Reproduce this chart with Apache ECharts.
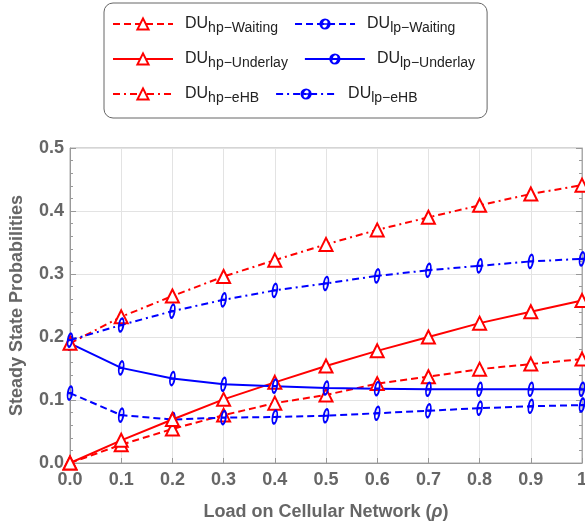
<!DOCTYPE html>
<html>
<head>
<meta charset="utf-8">
<script src="https://cdn.jsdelivr.net/npm/echarts@6/dist/echarts.min.js"></script>
<style>
  html, body { margin: 0; padding: 0; background: #fff; }
  #chart { width: 585px; height: 523px; }
</style>
</head>
<body>
<div id="chart"></div>
<script>
// load values on the x axis
var loads = [0, 0.1, 0.2, 0.3, 0.4, 0.5, 0.6, 0.7, 0.8, 0.9, 1];

// curves
var hpWaiting  = [0.000, 0.029, 0.054, 0.076, 0.095, 0.108, 0.126, 0.137, 0.149, 0.157, 0.165];
var lpWaiting  = [0.111, 0.076, 0.069, 0.072, 0.073, 0.075, 0.079, 0.083, 0.087, 0.090, 0.092];
var hpUnderlay = [0.000, 0.036, 0.069, 0.101, 0.128, 0.154, 0.178, 0.200, 0.222, 0.240, 0.258];
var lpUnderlay = [0.190, 0.151, 0.134, 0.125, 0.122, 0.119, 0.118, 0.117, 0.117, 0.117, 0.117];
var hpEHB      = [0.190, 0.232, 0.265, 0.296, 0.322, 0.347, 0.370, 0.390, 0.409, 0.427, 0.441];
var lpEHB      = [0.195, 0.219, 0.241, 0.259, 0.274, 0.285, 0.297, 0.306, 0.313, 0.320, 0.324];

var names = ['hp−Waiting', 'lp−Waiting', 'hp−Underlay', 'lp−Underlay', 'hp−eHB', 'lp−eHB'];

// theta marker (slanted ring + bar)
var theta = 'path://M2.07 -7.73 A4.5 8 15 1 1 -2.07 7.73 A4.5 8 15 1 1 2.07 -7.73 Z ' +
            'M1.4 -5.3 A1.8 5.4 15 1 0 -1.4 5.3 A1.8 5.4 15 1 0 1.4 -5.3 Z ' +
            'M-3.8 -1.1 L3.8 -1.1 L3.8 1.1 L-3.8 1.1 Z';

var dashed = [7, 4];
var dashDot = [7, 4, 2, 4];

function pairs(arr) {
  return loads.map(function (x, i) { return [x, arr[i]]; });
}

function redSeries(name, arr, type) {
  return {
    name: name,
    type: 'line',
    data: pairs(arr),
    symbol: 'triangle',
    symbolSize: 13,
    lineStyle: { color: '#ff0000', width: 2, type: type },
    itemStyle: { color: '#ffffff', borderColor: '#ff0000', borderWidth: 2 }
  };
}

function blueSeries(name, arr, type) {
  return {
    name: name,
    type: 'line',
    data: pairs(arr),
    symbol: theta,
    symbolKeepAspect: true,
    symbolSize: [11, 16],
    lineStyle: { color: '#0000ff', width: 2, type: type },
    itemStyle: { color: '#0000ff', borderWidth: 0 }
  };
}

var labelStyle = { color: '#666', fontSize: 18, fontWeight: 'bold', fontFamily: 'Liberation Sans, Arial, sans-serif' };

var chart = echarts.init(document.getElementById('chart'));

var option = {
  backgroundColor: '#fff',
  animation: false,
  grid: {
    left: 70, right: 3, top: 148, bottom: 60,
    outerBoundsMode: 'none',
    show: true, borderColor: '#aaa', borderWidth: 1
  },
  legend: {
    left: 104,
    top: 3,
    width: 380,
    padding: [13, 12, 13, 8],
    itemWidth: 60,
    itemHeight: 14,
    itemGap: 16,
    borderColor: '#666',
    borderWidth: 1,
    borderRadius: 9,
    data: names,
    formatter: function (n) { return '{a|DU}{b|' + n + '}'; },
    textStyle: {
      color: '#222',
      fontFamily: 'Liberation Sans, Arial, sans-serif',
      rich: {
        a: { fontSize: 16, lineHeight: 22, padding: [0, 0, 0, 7] },
        b: { fontSize: 14, lineHeight: 14, verticalAlign: 'bottom' }
      }
    }
  },
  xAxis: {
    type: 'value',
    min: 0,
    max: 1,
    interval: 0.1,
    name: 'Load on Cellular Network ({i|ρ})',
    nameLocation: 'middle',
    nameGap: 40,
    nameTextStyle: {
      color: '#666', fontSize: 18, fontWeight: 'bold', fontFamily: 'Liberation Sans, Arial, sans-serif',
      rich: { i: { fontStyle: 'italic', fontSize: 18, fontWeight: 'bold', color: '#666' } }
    },
    axisLine: { lineStyle: { color: '#999' } },
    axisTick: { inside: true, length: 5, lineStyle: { color: '#999' } },
    axisLabel: Object.assign({
      margin: 8,
      formatter: function (v) { return v === 1 ? '1' : v.toFixed(1); }
    }, labelStyle),
    splitLine: { lineStyle: { color: '#e3e3e3' } }
  },
  yAxis: [{
    type: 'value',
    min: 0,
    max: 0.5,
    interval: 0.1,
    name: 'Steady State Probabilities',
    nameLocation: 'middle',
    nameGap: 44,
    nameTextStyle: { color: '#666', fontSize: 18, fontWeight: 'bold', fontFamily: 'Liberation Sans, Arial, sans-serif' },
    axisLine: { show: true, lineStyle: { color: '#999' } },
    axisTick: { show: true, inside: true, length: 6, lineStyle: { color: '#999' } },
    minorTick: { show: true, splitNumber: 5, length: 3, lineStyle: { color: '#999' } },
    axisLabel: Object.assign({
      margin: 6,
      formatter: function (v) { return v.toFixed(1); }
    }, labelStyle),
    splitLine: { lineStyle: { color: '#e3e3e3' } }
  }, {
    type: 'value',
    position: 'right',
    min: 0,
    max: 0.5,
    interval: 0.1,
    axisLine: { show: true, lineStyle: { color: '#aaa' } },
    axisTick: { show: true, inside: true, length: 6, lineStyle: { color: '#999' } },
    minorTick: { show: true, splitNumber: 5, length: 3, lineStyle: { color: '#999' } },
    axisLabel: { show: false },
    splitLine: { show: false }
  }],
  series: [
    redSeries(names[0], hpWaiting, dashed),
    blueSeries(names[1], lpWaiting, dashed),
    redSeries(names[2], hpUnderlay, 'solid'),
    blueSeries(names[3], lpUnderlay, 'solid'),
    redSeries(names[4], hpEHB, dashDot),
    blueSeries(names[5], lpEHB, dashDot)
  ]
};

chart.setOption(option);
</script>
</body>
</html>
